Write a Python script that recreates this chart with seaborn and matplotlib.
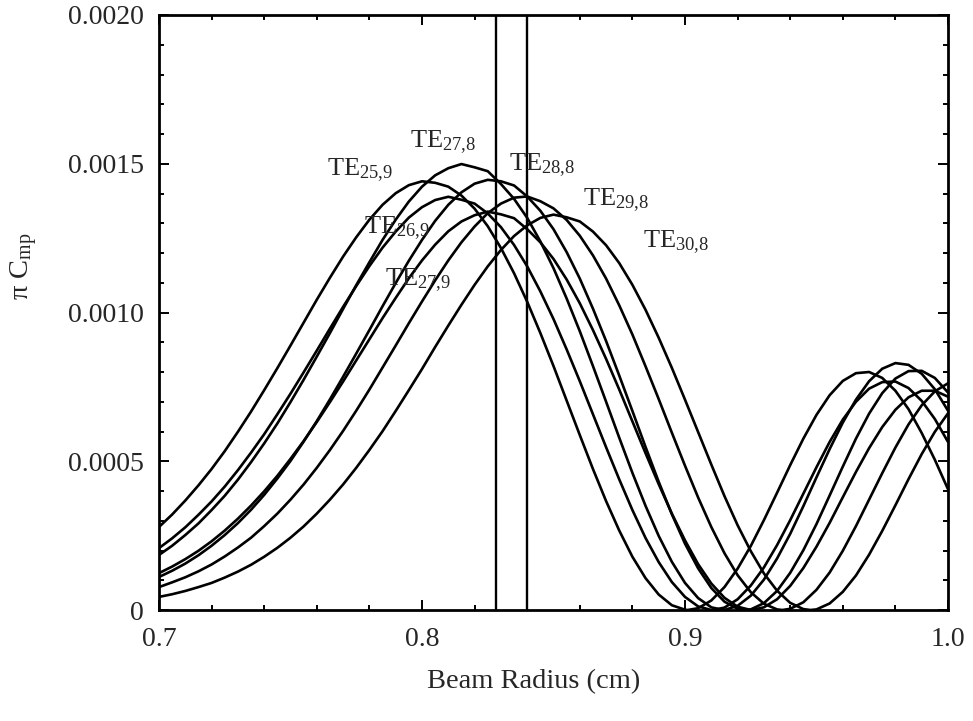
import matplotlib
matplotlib.use("Agg")
import matplotlib.pyplot as plt
import pandas as pd
import seaborn as sns
from matplotlib.ticker import FixedLocator, MultipleLocator, FuncFormatter

# ---------------- data ----------------
BEAM_RADIUS = [0.700, 0.705, 0.710, 0.715, 0.720, 0.725, 0.730, 0.735, 0.740, 0.745,
               0.750, 0.755, 0.760, 0.765, 0.770, 0.775, 0.780, 0.785, 0.790, 0.795,
               0.800, 0.805, 0.810, 0.815, 0.820, 0.825, 0.830, 0.835, 0.840, 0.845,
               0.850, 0.855, 0.860, 0.865, 0.870, 0.875, 0.880, 0.885, 0.890, 0.895,
               0.900, 0.905, 0.910, 0.915, 0.920, 0.925, 0.930, 0.935, 0.940, 0.945,
               0.950, 0.955, 0.960, 0.965, 0.970, 0.975, 0.980, 0.985, 0.990, 0.995,
               1.000]

TE_25_9 = [0.000279, 0.000321, 0.000368, 0.000419, 0.000474, 0.000534, 0.000599, 0.000667,
           0.000739, 0.000813, 0.000889, 0.000966, 0.001043, 0.001117, 0.001188, 0.001253,
           0.001312, 0.001362, 0.001401, 0.001428, 0.001441, 0.001436, 0.001423, 0.001393,
           0.001349, 0.001290, 0.001217, 0.001132, 0.001036, 0.000931, 0.000820, 0.000704,
           0.000588, 0.000474, 0.000366, 0.000267, 0.000179, 0.000107, 0.000052, 0.000016,
           0.000001, 0.000006, 0.000032, 0.000077, 0.000139, 0.000215, 0.000302, 0.000394,
           0.000487, 0.000576, 0.000656, 0.000722, 0.000770, 0.000796, 0.000800, 0.000780,
           0.000737, 0.000675, 0.000595, 0.000505, 0.000406]
TE_26_9 = [0.000208, 0.000241, 0.000278, 0.000320, 0.000365, 0.000415, 0.000470, 0.000529,
           0.000591, 0.000658, 0.000727, 0.000799, 0.000872, 0.000946, 0.001019, 0.001089,
           0.001156, 0.001218, 0.001272, 0.001319, 0.001354, 0.001378, 0.001389, 0.001379,
           0.001366, 0.001333, 0.001287, 0.001227, 0.001155, 0.001071, 0.000978, 0.000876,
           0.000769, 0.000658, 0.000547, 0.000439, 0.000336, 0.000242, 0.000161, 0.000094,
           0.000044, 0.000012, 0.000000, 0.000008, 0.000036, 0.000082, 0.000143, 0.000218,
           0.000302, 0.000391, 0.000480, 0.000565, 0.000640, 0.000700, 0.000744, 0.000766,
           0.000768, 0.000746, 0.000703, 0.000642, 0.000565]
TE_27_8 = [0.000185, 0.000216, 0.000252, 0.000291, 0.000336, 0.000384, 0.000438, 0.000497,
           0.000560, 0.000627, 0.000699, 0.000774, 0.000852, 0.000931, 0.001012, 0.001092,
           0.001169, 0.001244, 0.001312, 0.001373, 0.001423, 0.001461, 0.001485, 0.001499,
           0.001488, 0.001475, 0.001432, 0.001382, 0.001318, 0.001239, 0.001149, 0.001047,
           0.000937, 0.000820, 0.000700, 0.000579, 0.000461, 0.000350, 0.000249, 0.000162,
           0.000091, 0.000040, 0.000009, 0.000000, 0.000014, 0.000048, 0.000102, 0.000173,
           0.000256, 0.000349, 0.000446, 0.000541, 0.000630, 0.000707, 0.000769, 0.000811,
           0.000830, 0.000824, 0.000794, 0.000742, 0.000670]
TE_27_9 = [0.000124, 0.000146, 0.000171, 0.000199, 0.000231, 0.000267, 0.000307, 0.000351,
           0.000399, 0.000451, 0.000508, 0.000568, 0.000632, 0.000699, 0.000768, 0.000839,
           0.000910, 0.000981, 0.001049, 0.001115, 0.001175, 0.001228, 0.001273, 0.001306,
           0.001327, 0.001339, 0.001330, 0.001317, 0.001280, 0.001236, 0.001180, 0.001111,
           0.001031, 0.000941, 0.000844, 0.000741, 0.000634, 0.000527, 0.000423, 0.000324,
           0.000234, 0.000154, 0.000089, 0.000041, 0.000011, 0.000000, 0.000009, 0.000036,
           0.000081, 0.000141, 0.000213, 0.000293, 0.000379, 0.000464, 0.000544, 0.000615,
           0.000673, 0.000715, 0.000737, 0.000737, 0.000717]
TE_28_8 = [0.000111, 0.000132, 0.000156, 0.000184, 0.000216, 0.000252, 0.000292, 0.000337,
           0.000387, 0.000442, 0.000501, 0.000566, 0.000635, 0.000708, 0.000784, 0.000862,
           0.000941, 0.001021, 0.001099, 0.001174, 0.001244, 0.001308, 0.001362, 0.001404,
           0.001433, 0.001446, 0.001441, 0.001427, 0.001390, 0.001342, 0.001280, 0.001203,
           0.001114, 0.001013, 0.000904, 0.000788, 0.000669, 0.000548, 0.000431, 0.000322,
           0.000223, 0.000140, 0.000074, 0.000028, 0.000004, 0.000002, 0.000023, 0.000064,
           0.000125, 0.000201, 0.000289, 0.000385, 0.000482, 0.000576, 0.000660, 0.000729,
           0.000778, 0.000803, 0.000804, 0.000780, 0.000731]
TE_29_8 = [0.000077, 0.000093, 0.000110, 0.000130, 0.000153, 0.000180, 0.000210, 0.000243,
           0.000282, 0.000324, 0.000371, 0.000422, 0.000478, 0.000538, 0.000602, 0.000670,
           0.000741, 0.000815, 0.000889, 0.000964, 0.001037, 0.001108, 0.001175, 0.001236,
           0.001289, 0.001334, 0.001366, 0.001386, 0.001390, 0.001374, 0.001350, 0.001311,
           0.001258, 0.001192, 0.001114, 0.001024, 0.000926, 0.000819, 0.000709, 0.000596,
           0.000485, 0.000378, 0.000279, 0.000191, 0.000117, 0.000060, 0.000021, 0.000002,
           0.000004, 0.000026, 0.000068, 0.000126, 0.000199, 0.000282, 0.000371, 0.000460,
           0.000546, 0.000624, 0.000688, 0.000735, 0.000762]
TE_30_8 = [0.000044, 0.000053, 0.000064, 0.000077, 0.000091, 0.000109, 0.000129, 0.000152,
           0.000179, 0.000209, 0.000243, 0.000281, 0.000324, 0.000371, 0.000422, 0.000478,
           0.000538, 0.000601, 0.000669, 0.000739, 0.000810, 0.000884, 0.000956, 0.001026,
           0.001093, 0.001155, 0.001210, 0.001257, 0.001293, 0.001318, 0.001329, 0.001320,
           0.001306, 0.001272, 0.001226, 0.001166, 0.001093, 0.001009, 0.000915, 0.000814,
           0.000707, 0.000598, 0.000489, 0.000383, 0.000285, 0.000198, 0.000123, 0.000065,
           0.000024, 0.000003, 0.000002, 0.000022, 0.000061, 0.000116, 0.000186, 0.000266,
           0.000352, 0.000440, 0.000524, 0.000599, 0.000661]

MODE_NAMES = ["25,9", "26,9", "27,8", "27,9", "28,8", "29,8", "30,8"]
MODE_VALUES = [TE_25_9, TE_26_9, TE_27_8, TE_27_9, TE_28_8, TE_29_8, TE_30_8]
# radius where each curve touches zero (first null)
FIRST_NULL = [0.901, 0.9105, 0.9145, 0.9253, 0.9229, 0.937, 0.9477]

MARKER_RADII = [0.828, 0.840]

# label anchor positions (data coords: left edge / baseline)
LABEL_X = [0.7639, 0.7779, 0.7954, 0.7859, 0.8331, 0.8612, 0.8840]
LABEL_Y = [0.001462, 0.001267, 0.001556, 0.001092, 0.001479, 0.001361, 0.001217]

# ---------------- build table ----------------
rows = []
for name, vals, z in zip(MODE_NAMES, MODE_VALUES, FIRST_NULL):
    pts = list(zip(BEAM_RADIUS, vals)) + [(z, 0.0)]
    pts.sort(key=lambda p: p[0])
    for r, c in pts:
        rows.append({"radius": r, "cmp": c, "mode": name})
df = pd.DataFrame(rows)

# ---------------- style ----------------
sns.set_theme(style="ticks")
plt.rcParams["font.family"] = ["Liberation Serif", "DejaVu Serif"]
plt.rcParams["mathtext.fontset"] = "custom"
plt.rcParams["mathtext.rm"] = "Liberation Serif"
plt.rcParams["mathtext.it"] = "Liberation Serif:italic"

fig = plt.figure(figsize=(9.73, 7.21), dpi=100)
fig.patch.set_facecolor("white")
ax = fig.add_axes([159 / 973, 1 - 610 / 721, (948 - 159) / 973, (610 - 15) / 721])
ax.set_facecolor("white")

sns.lineplot(data=df, x="radius", y="cmp", hue="mode", hue_order=MODE_NAMES,
             palette=["black"] * len(MODE_NAMES), legend=False, estimator=None,
             sort=False, linewidth=1.9, ax=ax)
for line in ax.get_lines():
    line.set_solid_joinstyle("round")

for r in MARKER_RADII:
    ax.axvline(r, color="black", linewidth=1.7)

ax.set_xlim(0.7, 1.0)
ax.set_ylim(0, 0.002)

ax.xaxis.set_major_locator(FixedLocator([0.7, 0.8, 0.9, 1.0]))
ax.xaxis.set_minor_locator(MultipleLocator(0.02))
ax.yaxis.set_major_locator(MultipleLocator(0.0005))
ax.yaxis.set_minor_locator(MultipleLocator(0.0001))
ax.xaxis.set_major_formatter(FuncFormatter(lambda v, _: f"{v:.1f}"))
ax.yaxis.set_major_formatter(FuncFormatter(lambda v, _: "0" if abs(v) < 1e-12 else f"{v:.4f}"))

ax.tick_params(which="both", direction="in", top=True, right=True, width=1.4, color="black")
ax.tick_params(which="major", length=7, labelsize=20)
ax.tick_params(which="minor", length=3.5)
ax.tick_params(axis="x", which="major", pad=12)
ax.tick_params(axis="y", which="major", pad=11)
for sp in ax.spines.values():
    sp.set_linewidth(2.0)
    sp.set_color("black")

ax.set_xlabel("")
ax.set_ylabel("")
fig.text(534 / 973, 1 - 682 / 721, "Beam Radius (cm)", ha="center", va="center", fontsize=20.5)
fig.text(24 / 973, 1 - 266 / 721, r"π C$_{\mathregular{mp}}$", ha="center", va="center",
         rotation=90, fontsize=20.5)

for name, lx, ly in zip(MODE_NAMES, LABEL_X, LABEL_Y):
    a, b = name.split(",")
    ax.text(lx, ly, r"TE$_{\mathregular{" + a + "{,}" + b + "}}$", ha="left", va="baseline",
            fontsize=19)

fig.savefig("out.png", dpi=100, facecolor="white")
